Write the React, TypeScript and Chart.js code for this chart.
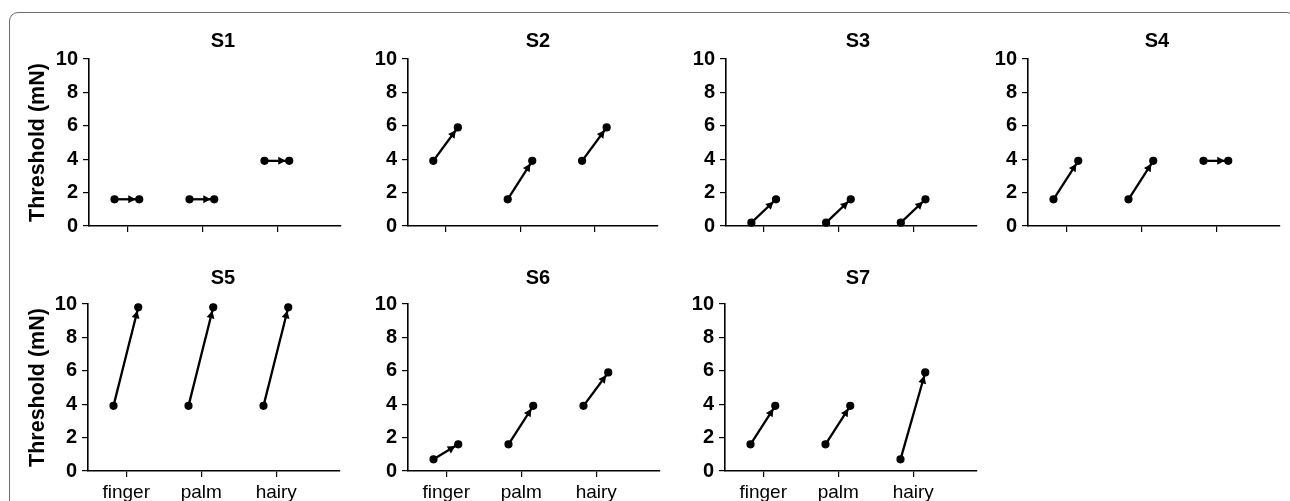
import React, { useEffect, useRef } from 'react';
import { Chart, registerables } from 'chart.js';

Chart.register(...registerables);

// ---------- data ----------
const categories = ['finger', 'palm', 'hairy'];
const subjectNames = ['S1', 'S2', 'S3', 'S4', 'S5', 'S6', 'S7'];
const yTickValues = [0, 2, 4, 6, 8, 10];

const s1Before = [1.6, 1.6, 3.9];
const s1After = [1.6, 1.6, 3.9];
const s2Before = [3.9, 1.6, 3.9];
const s2After = [5.9, 3.9, 5.9];
const s3Before = [0.2, 0.2, 0.2];
const s3After = [1.6, 1.6, 1.6];
const s4Before = [1.6, 1.6, 3.9];
const s4After = [3.9, 3.9, 3.9];
const s5Before = [3.9, 3.9, 3.9];
const s5After = [9.8, 9.8, 9.8];
const s6Before = [0.7, 1.6, 3.9];
const s6After = [1.6, 3.9, 5.9];
const s7Before = [1.6, 1.6, 0.7];
const s7After = [3.9, 3.9, 5.9];

const beforeValues = [s1Before, s2Before, s3Before, s4Before, s5Before, s6Before, s7Before];
const afterValues = [s1After, s2After, s3After, s4After, s5After, s6After, s7After];

// ---------- layout / style ----------
const FONT = "'Liberation Sans', Arial, Helvetica, sans-serif";
const X_MIN = 0.49;
const X_MAX = 3.85;
const START_OFF = -0.17;
const END_OFF = 0.16;
const TITLE_FONT = 20;
const TITLE_PAD_TOP = 4;
const X_AXIS_H = 30;

type Geom = { L: number; R: number; T: number; B: number; cx: number; padB: number; leftCol: boolean; showX: boolean };
const geoms: Geom[] = [
  { L: 89, R: 341, T: 59, B: 226, cx: 223, padB: 6, leftCol: true, showX: false },
  { L: 408, R: 658, T: 59, B: 226, cx: 538, padB: 6, leftCol: false, showX: false },
  { L: 726, R: 977, T: 59, B: 226, cx: 858, padB: 6, leftCol: false, showX: false },
  { L: 1028, R: 1280, T: 59, B: 226, cx: 1157, padB: 6, leftCol: false, showX: false },
  { L: 88, R: 340, T: 304, B: 471, cx: 223, padB: 14, leftCol: true, showX: true },
  { L: 408, R: 660, T: 304, B: 471, cx: 538, padB: 14, leftCol: false, showX: true },
  { L: 725, R: 977, T: 304, B: 471, cx: 858, padB: 14, leftCol: false, showX: true },
];

const arrowPlugin = {
  id: 'arrowHeads',
  afterDatasetsDraw(chart: any) {
    const ctx = chart.ctx;
    chart.data.datasets.forEach((_ds: any, i: number) => {
      const meta = chart.getDatasetMeta(i);
      const a = meta.data[0];
      const b = meta.data[1];
      if (!a || !b) return;
      const dx = b.x - a.x;
      const dy = b.y - a.y;
      const len = Math.hypot(dx, dy);
      if (!len) return;
      const ux = dx / len;
      const uy = dy / len;
      const tipX = b.x - ux * 3.5;
      const tipY = b.y - uy * 3.5;
      const baseX = tipX - ux * 7.5;
      const baseY = tipY - uy * 7.5;
      const px = -uy;
      const py = ux;
      ctx.save();
      ctx.fillStyle = '#000';
      ctx.beginPath();
      ctx.moveTo(tipX, tipY);
      ctx.lineTo(baseX + px * 4, baseY + py * 4);
      ctx.lineTo(baseX - px * 4, baseY - py * 4);
      ctx.closePath();
      ctx.fill();
      ctx.restore();
    });
  },
};

function Panel({ idx }: { idx: number }) {
  const ref = useRef<HTMLCanvasElement | null>(null);
  const g = geoms[idx];
  const left = g.leftCol ? 0 : g.L - 40;
  const yW = g.L - left;
  const width = Math.round(2 * (g.cx - left));
  const rightW = left + width - g.R;
  const titleH = TITLE_FONT * 1.2 + TITLE_PAD_TOP + g.padB;
  const top = g.T - titleH;
  const height = titleH + (g.B - g.T) + X_AXIS_H;

  useEffect(() => {
    if (!ref.current) return;
    const datasets = categories.map((_c, ci) => ({
      label: categories[ci],
      data: [
        { x: ci + 1 + START_OFF, y: beforeValues[idx][ci] },
        { x: ci + 1 + END_OFF, y: afterValues[idx][ci] },
      ],
      borderColor: '#000',
      backgroundColor: '#000',
      borderWidth: 2.3,
      pointRadius: 3.5,
      pointBorderWidth: 1.2,
      pointBackgroundColor: '#000',
      pointBorderColor: '#000',
      showLine: true,
      clip: false,
    }));
    const chart = new Chart(ref.current, {
      type: 'line',
      data: { datasets },
      plugins: [arrowPlugin],
      options: {
        animation: false,
        responsive: false,
        maintainAspectRatio: false,
        devicePixelRatio: 1,
        layout: { padding: 0 },
        plugins: {
          legend: { display: false },
          tooltip: { enabled: false },
          title: {
            display: true,
            text: subjectNames[idx],
            color: '#000',
            font: { family: FONT, size: TITLE_FONT, weight: 'bold', lineHeight: 1.2 },
            padding: { top: TITLE_PAD_TOP, bottom: g.padB },
          },
        },
        scales: {
          x: {
            type: 'linear',
            min: X_MIN,
            max: X_MAX,
            afterBuildTicks: (scale: any) => {
              scale.ticks = categories.map((_c, i) => ({ value: i + 1 }));
            },
            afterFit: (scale: any) => {
              scale.height = X_AXIS_H;
            },
            grid: {
              display: true,
              drawOnChartArea: false,
              drawTicks: true,
              tickLength: 6,
              color: '#000',
              lineWidth: 1.2,
            },
            border: { display: true, color: '#000', width: 1.6 },
            ticks: {
              display: g.showX,
              color: '#000',
              padding: 4,
              maxRotation: 0,
              font: { family: FONT, size: 19 },
              callback: (v: any) => categories[Math.round(Number(v)) - 1] ?? '',
            },
          },
          y: {
            type: 'linear',
            min: 0,
            max: 10,
            afterBuildTicks: (scale: any) => {
              scale.ticks = yTickValues.map((v) => ({ value: v }));
            },
            afterFit: (scale: any) => {
              scale.width = yW;
            },
            grid: {
              display: true,
              drawOnChartArea: false,
              drawTicks: true,
              tickLength: 6,
              color: '#000',
              lineWidth: 1.2,
            },
            border: { display: true, color: '#000', width: 1.6 },
            ticks: {
              color: '#000',
              padding: 5,
              font: { family: FONT, size: 20, weight: 'bold' },
            },
            title: {
              display: g.leftCol,
              text: 'Threshold (mN)',
              color: '#000',
              font: { family: FONT, size: 21.5, weight: 'bold' },
              padding: { top: 25, bottom: 0 },
            },
          },
          spacer: {
            type: 'linear',
            position: 'right',
            display: true,
            afterFit: (scale: any) => {
              scale.width = rightW;
            },
            grid: { display: false, drawTicks: false },
            border: { display: false },
            ticks: { display: false },
          },
        },
      } as any,
    });
    return () => chart.destroy();
  }, [idx]);

  return (
    <canvas
      ref={ref}
      width={width}
      height={height}
      style={{ position: 'absolute', left, top, width, height }}
    />
  );
}

export default function App() {
  return (
    <div
      style={{
        position: 'absolute',
        left: 0,
        top: 0,
        width: 1290,
        height: 501,
        overflow: 'hidden',
        background: '#fff',
      }}
    >
      <div
        style={{
          position: 'absolute',
          left: 9,
          top: 12,
          width: 1287,
          height: 600,
          border: '1.5px solid #6e6e6e',
          borderRadius: 9,
          boxSizing: 'border-box',
        }}
      />
      {subjectNames.map((_s, i) => (
        <Panel key={i} idx={i} />
      ))}
    </div>
  );
}
